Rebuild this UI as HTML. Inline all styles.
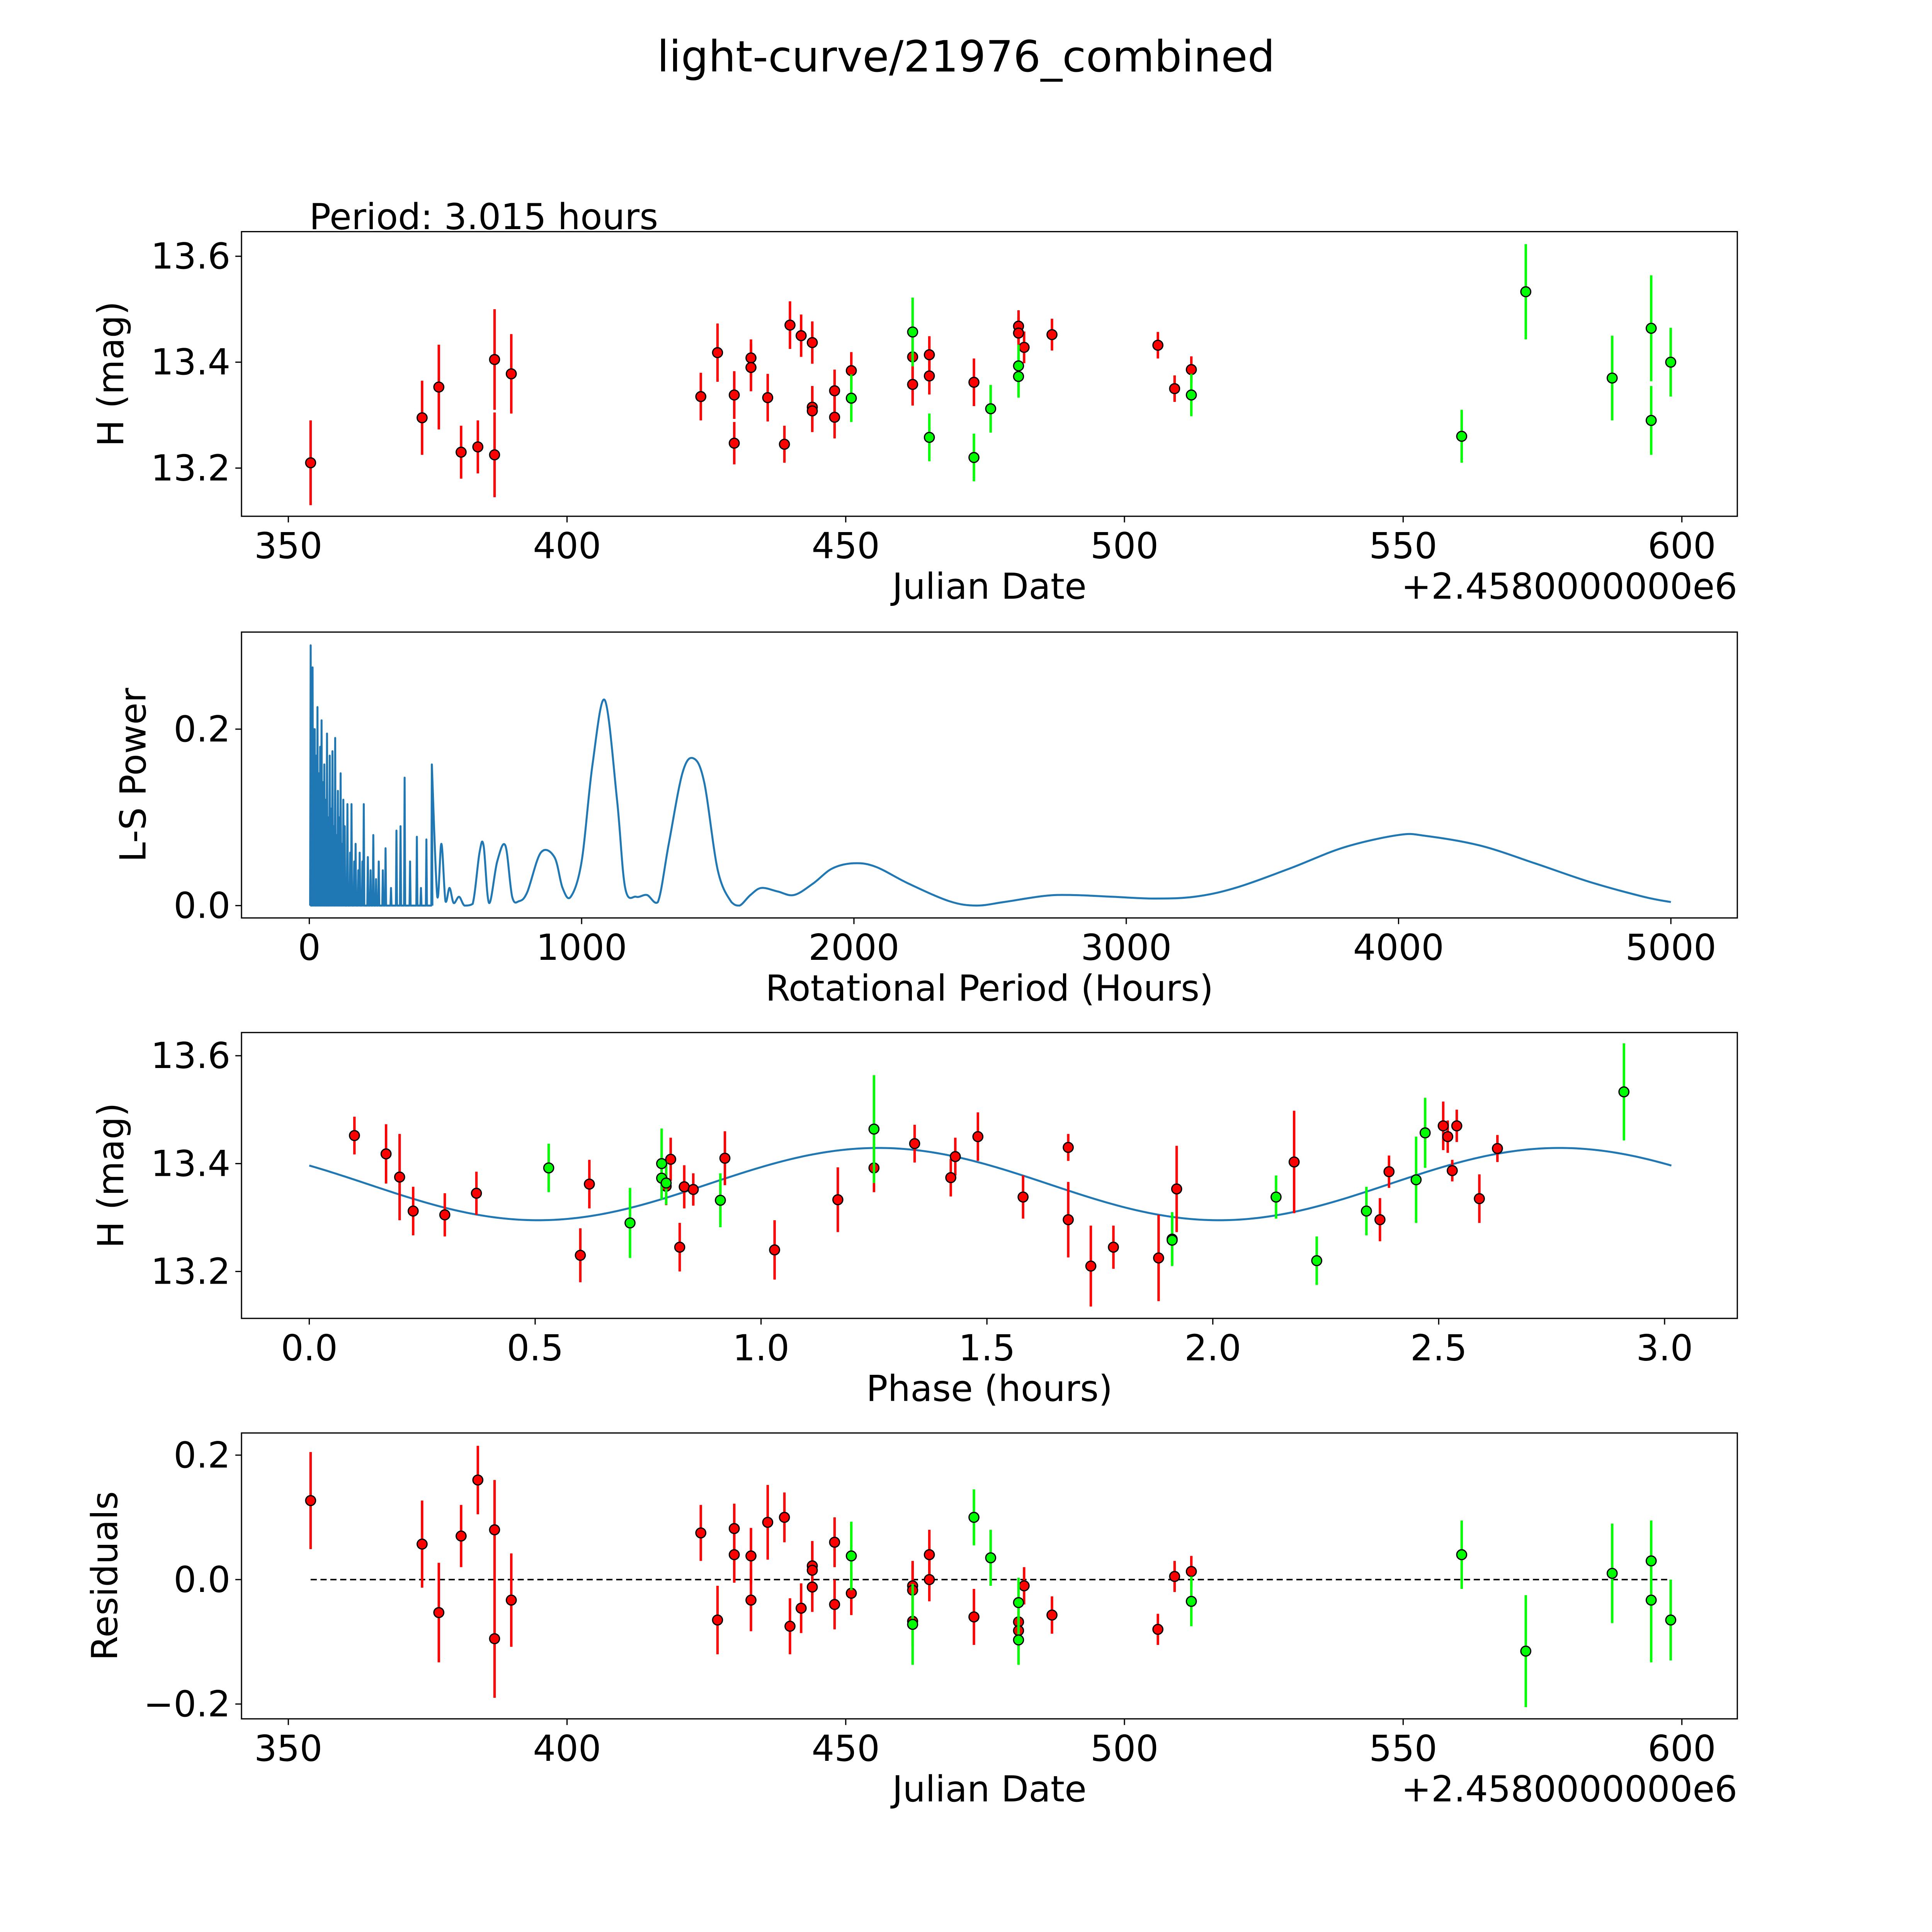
<!DOCTYPE html>
<html><head><meta charset="utf-8"><style>
html,body{margin:0;padding:0;background:#fff;width:100%;height:100%;overflow:hidden}
svg{display:block;width:100vw;height:100vh}
text{font-family:"DejaVu Sans","Liberation Sans",sans-serif;fill:#000}
</style></head><body>
<svg id="fig" viewBox="0 0 1568 1568" preserveAspectRatio="xMinYMin meet" xmlns="http://www.w3.org/2000/svg">
<rect width="1568" height="1568" fill="#fff"/>
<text x="784" y="58" font-size="35" text-anchor="middle">light-curve/21976_combined</text>
<text x="251" y="186" font-size="29">Period: 3.015 hours</text>
</svg>
<script>
// ---- data: light curve (date offset, mag, err)
const lcRedDate=[354,374,377,381,384,387,387,390,424,427,430,430,433,433,436,439,440,442,444,444,444,448,448,451,462,462,465,465,473,481,481,482,487,506,509,512];
const lcRedMag=[13.21,13.295,13.353,13.23,13.24,13.405,13.225,13.378,13.335,13.418,13.247,13.338,13.408,13.39,13.333,13.245,13.47,13.45,13.437,13.315,13.308,13.346,13.296,13.384,13.41,13.358,13.414,13.374,13.362,13.468,13.455,13.428,13.452,13.432,13.35,13.386];
const lcRedErr=[0.08,0.07,0.08,0.05,0.05,0.095,0.08,0.075,0.045,0.055,0.04,0.045,0.035,0.045,0.045,0.035,0.045,0.04,0.04,0.04,0.04,0.04,0.04,0.035,0.04,0.04,0.035,0.035,0.045,0.03,0.03,0.03,0.03,0.025,0.025,0.025];
const lcGreenDate=[451,462,465,473,476,481,481,512,560.5,572,587.5,594.5,594.5,598];
const lcGreenMag=[13.332,13.457,13.258,13.22,13.312,13.393,13.373,13.338,13.26,13.533,13.37,13.464,13.29,13.4];
const lcGreenErr=[0.045,0.065,0.045,0.045,0.045,0.04,0.04,0.04,0.05,0.09,0.08,0.1,0.065,0.065];
// ---- periodogram
const pgNoisePeriod=[5,8,12,16,20,25,30,35,40,45,50,55,60,65,70,75,80,85,90,95,100,105,110,115,120,125,130,140,150,155,165,170,180,185,195,200,215,225,235,245,255,270,280,300,320,335,350,370,395,410,430,450];
const pgNoisePower=[0.295,0.26,0.27,0.2,0.2,0.17,0.225,0.15,0.18,0.21,0.14,0.16,0.12,0.195,0.1,0.17,0.11,0.175,0.09,0.19,0.08,0.13,0.1,0.15,0.07,0.12,0.09,0.115,0.06,0.115,0.05,0.07,0.04,0.06,0.05,0.115,0.055,0.04,0.08,0.03,0.05,0.04,0.065,0.02,0.085,0.09,0.145,0.05,0.078,0.02,0.075,0.16];
const pgPeriod=[450,470,485,500,515,530,550,570,600,625,640,660,690,720,745,770,800,850,900,930,960,1000,1040,1085,1130,1160,1200,1240,1280,1320,1370,1410,1450,1500,1550,1580,1620,1660,1720,1780,1850,1920,2000,2080,2200,2350,2450,2550,2700,2800,2950,3100,3250,3400,3600,3800,4000,4100,4300,4500,4700,4900,5000];
const pgPower=[0.16,0.01,0.07,0.005,0.02,0.003,0.01,0.0,0.002,0.06,0.068,0.003,0.05,0.068,0.01,0.005,0.015,0.06,0.055,0.02,0.01,0.05,0.16,0.233,0.12,0.02,0.01,0.012,0.004,0.07,0.15,0.167,0.14,0.04,0.004,0.0,0.012,0.02,0.016,0.012,0.025,0.042,0.048,0.044,0.025,0.005,0.0,0.004,0.011,0.012,0.01,0.008,0.01,0.02,0.042,0.066,0.08,0.079,0.068,0.048,0.027,0.01,0.004];
// ---- phased
const phRedPhase=[0.1,0.17,0.2,0.23,0.3,0.37,0.6,0.62,0.8,0.82,0.79,0.83,0.85,0.92,1.03,1.17,1.25,1.34,1.42,1.43,1.48,1.58,1.68,1.68,1.73,1.78,1.88,1.92,2.18,2.37,2.39,2.51,2.52,2.54,2.53,2.59,2.63];
const phRedMag=[13.452,13.418,13.375,13.312,13.305,13.345,13.23,13.362,13.408,13.245,13.358,13.357,13.352,13.41,13.24,13.333,13.392,13.437,13.374,13.413,13.45,13.338,13.43,13.296,13.21,13.245,13.225,13.353,13.403,13.296,13.385,13.47,13.45,13.47,13.387,13.335,13.428];
const phRedErr=[0.035,0.055,0.08,0.045,0.04,0.04,0.05,0.045,0.04,0.045,0.035,0.04,0.03,0.05,0.055,0.06,0.045,0.035,0.035,0.035,0.045,0.04,0.025,0.07,0.075,0.04,0.08,0.08,0.095,0.04,0.03,0.045,0.03,0.03,0.02,0.045,0.025];
const phGreenPhase=[0.53,0.71,0.78,0.78,0.79,0.91,1.25,1.91,1.91,2.14,2.23,2.34,2.45,2.47,2.91];
const phGreenMag=[13.392,13.29,13.4,13.373,13.364,13.332,13.464,13.26,13.258,13.338,13.22,13.312,13.37,13.457,13.533];
const phGreenErr=[0.045,0.065,0.065,0.04,0.04,0.05,0.1,0.05,0.045,0.04,0.045,0.045,0.08,0.065,0.09];
const modelMean=[13.362], modelAmp=[0.067], modelPeak=[1.26], modelPeriod=[1.5075], modelSpan=[0,3.015];
// ---- residuals
const rsRedDate=[354,374,377,381,384,387,387,390,424,427,430,430,433,433,436,439,440,442,444,444,444,448,448,451,462,462,462,465,465,473,481,481,482,487,506,509,512];
const rsRedVal=[0.127,0.057,-0.053,0.07,0.16,0.08,-0.095,-0.033,0.075,-0.065,0.082,0.04,0.038,-0.033,0.092,0.1,-0.075,-0.046,0.022,0.015,-0.012,0.06,-0.04,-0.022,-0.01,-0.017,-0.067,0.04,0.0,-0.06,-0.068,-0.082,-0.01,-0.057,-0.08,0.005,0.013];
const rsRedErr=[0.078,0.07,0.08,0.05,0.055,0.08,0.095,0.075,0.045,0.055,0.04,0.045,0.045,0.05,0.06,0.04,0.045,0.04,0.04,0.04,0.04,0.04,0.04,0.035,0.04,0.04,0.04,0.04,0.035,0.045,0.03,0.03,0.03,0.03,0.025,0.025,0.025];
const rsGreenDate=[451,462,473,476,481,481,512,560.5,572,587.5,594.5,594.5,598];
const rsGreenVal=[0.038,-0.072,0.1,0.035,-0.037,-0.097,-0.035,0.04,-0.115,0.01,0.03,-0.033,-0.065];
const rsGreenErr=[0.055,0.065,0.045,0.045,0.04,0.04,0.04,0.055,0.09,0.08,0.065,0.1,0.065];

const NS="http://www.w3.org/2000/svg", fig=document.getElementById('fig');
function mk(tag,attrs,parent){const e=document.createElementNS(NS,tag);for(const k in attrs)e.setAttribute(k,attrs[k]);(parent||fig).appendChild(e);return e;}
const L=196,R=1410;
function axes(name,top,bottom,xmin,xmax,ymin,ymax,xt,xtl,yt,ytl,xlabel,ylabel,ylx,offset){
  const g=mk('g',{});
  
  
  const sx=v=>L+(v-xmin)/(xmax-xmin)*(R-L), sy=v=>bottom-(v-ymin)/(ymax-ymin)*(bottom-top);
  xt.forEach((v,i)=>{const x=sx(v);mk('line',{x1:x,x2:x,y1:bottom,y2:bottom+5,stroke:'#000','stroke-width':1},g);
    const t=mk('text',{x:x,y:bottom+34,'font-size':29,'text-anchor':'middle'},g);t.textContent=xtl[i];
    
    });
  yt.forEach((v,i)=>{const y=sy(v);mk('line',{x1:L-5,x2:L,y1:y,y2:y,stroke:'#000','stroke-width':1},g);
    const t=mk('text',{x:L-9,y:y+10,'font-size':29,'text-anchor':'end'},g);t.textContent=ytl[i];
    
    });
  const xl=mk('text',{x:(L+R)/2,y:bottom+67,'font-size':29,'text-anchor':'middle'},g);xl.textContent=xlabel;
  
  
  const yl=mk('text',{x:ylx,y:(top+bottom)/2,'font-size':29,'text-anchor':'middle',transform:`rotate(-90 ${ylx} ${(top+bottom)/2})`},g);yl.textContent=ylabel;
  
  
  if(offset){const o=mk('text',{x:R,y:bottom+67,'font-size':29,'text-anchor':'end'},g);o.textContent=offset;
    
    }
  const plot=mk('g',{},g);
  mk('rect',{x:L,y:top,width:R-L,height:bottom-top,fill:'none',stroke:'#000','stroke-width':1},g);
  return {sx,sy,plot};
}
function errpts(ax,xs,ys,es,col,name){
  xs.forEach((x,i)=>{const px=ax.sx(x);
    const l=mk('line',{x1:px,x2:px,y1:ax.sy(ys[i]-es[i]),y2:ax.sy(ys[i]+es[i]),stroke:col,'stroke-width':2},ax.plot);
    
    });
  xs.forEach((x,i)=>{const c=mk('circle',{cx:ax.sx(x),cy:ax.sy(ys[i]),r:4,fill:col,stroke:'#000','stroke-width':1},ax.plot);
    
    });
}
const jdT=[350,400,450,500,550,600], jdTL=['350','400','450','500','550','600'];
const a1=axes('light-curve-axes',188,419,341.6,609.95,13.109,13.6465,jdT,jdTL,[13.2,13.4,13.6],['13.2','13.4','13.6'],'Julian Date','H (mag)',100,'+2.4580000000e6');
errpts(a1,lcRedDate,lcRedMag,lcRedErr,'#ff0000','red-obs');
errpts(a1,lcGreenDate,lcGreenMag,lcGreenErr,'#00ff00','green-obs');
const a2=axes('periodogram-axes',513,745,-249,5244,-0.014,0.31,[0,1000,2000,3000,4000,5000],['0','1000','2000','3000','4000','5000'],[0,0.2],['0.0','0.2'],'Rotational Period (Hours)','L-S Power',118);
// noisy short-period part
let pts=[];
pgNoisePeriod.forEach((p,i)=>{pts.push(a2.sx(p-2)+','+a2.sy(0));pts.push(a2.sx(p)+','+a2.sy(pgNoisePower[i]));pts.push(a2.sx(p+2)+','+a2.sy(0));});
const pn=mk('polyline',{points:pts.join(' '),fill:'none',stroke:'#1f77b4','stroke-width':1.6,'stroke-linejoin':'round'},a2.plot);


// smooth part via Catmull-Rom
const P=pgPeriod.map((p,i)=>[a2.sx(p),a2.sy(pgPower[i])]);
let d='M'+P[0][0]+','+P[0][1];
for(let i=0;i<P.length-1;i++){const p0=P[Math.max(0,i-1)],p1=P[i],p2=P[i+1],p3=P[Math.min(P.length-1,i+2)];
  const c1x=p1[0]+(p2[0]-p0[0])/6,c1y=p1[1]+(p2[1]-p0[1])/6,c2x=p2[0]-(p3[0]-p1[0])/6,c2y=p2[1]-(p3[1]-p1[1])/6;
  d+=` C${c1x},${Math.min(c1y,a2.sy(0))} ${c2x},${Math.min(c2y,a2.sy(0))} ${p2[0]},${p2[1]}`;}
const pl=mk('path',{d:d,fill:'none',stroke:'#1f77b4','stroke-width':1.6},a2.plot);


const a3=axes('phased-curve-axes',838,1070,-0.15,3.161,13.113,13.643,[0,0.5,1,1.5,2,2.5,3],['0.0','0.5','1.0','1.5','2.0','2.5','3.0'],[13.2,13.4,13.6],['13.2','13.4','13.6'],'Phase (hours)','H (mag)',100);
let mp=[];
for(let k=0;k<=300;k++){const x=modelSpan[0]+(modelSpan[1]-modelSpan[0])*k/300;
  const y=modelMean[0]+modelAmp[0]*Math.cos(2*Math.PI*(x-modelPeak[0])/modelPeriod[0]);mp.push(a3.sx(x)+','+a3.sy(y));}
const ml=mk('polyline',{points:mp.join(' '),fill:'none',stroke:'#1f77b4','stroke-width':1.6},a3.plot);


errpts(a3,phRedPhase,phRedMag,phRedErr,'#ff0000','red-phased');
errpts(a3,phGreenPhase,phGreenMag,phGreenErr,'#00ff00','green-phased');
const a4=axes('residuals-axes',1163,1395,341.6,609.95,-0.2238,0.2356,jdT,jdTL,[-0.2,0,0.2],['\u22120.2','0.0','0.2'],'Julian Date','Residuals',95,'+2.4580000000e6');
const zl=mk('line',{x1:a4.sx(354),x2:a4.sx(598),y1:a4.sy(0),y2:a4.sy(0),stroke:'#000','stroke-width':1.2,'stroke-dasharray':'5,3'},a4.plot);


errpts(a4,rsRedDate,rsRedVal,rsRedErr,'#ff0000','red-residual');
errpts(a4,rsGreenDate,rsGreenVal,rsGreenErr,'#00ff00','green-residual');
</script>
</body></html>
